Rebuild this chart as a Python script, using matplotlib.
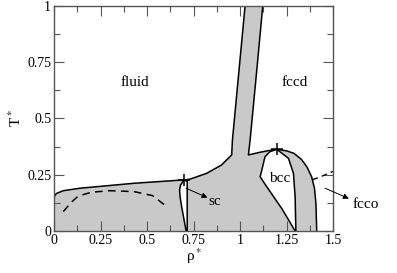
import numpy as np
import matplotlib
matplotlib.use("Agg")
import matplotlib.pyplot as plt
from matplotlib.ticker import MultipleLocator

plt.rcParams['font.family'] = ['Liberation Serif', 'DejaVu Serif']
plt.rcParams['mathtext.fontset'] = 'stix'

# coexistence boundaries (rho*, T*)
fluid_rho = [0.0, 0.004, 0.014, 0.05, 0.14, 0.43, 0.70]
fluid_T = [0.145, 0.158, 0.167, 0.179, 0.19, 0.212, 0.227]
sc_fcc_rho = [0.73, 0.82, 0.90, 0.955, 0.959, 1.027]
sc_fcc_T = [0.23, 0.256, 0.293, 0.338, 0.404, 1.0]
fccd_rho = [1.122, 1.09, 1.054, 1.045, 1.108, 1.152, 1.197]
fccd_T = [1.0, 0.716, 0.404, 0.338, 0.35, 0.357, 0.363]
outer_rho = [1.25, 1.29, 1.33, 1.36, 1.385, 1.40, 1.408, 1.412]
outer_T = [0.356, 0.345, 0.318, 0.284, 0.24, 0.19, 0.12, 0.0]

# sc pocket
sc_rho = [0.70, 0.68, 0.675, 0.678, 0.686, 0.71, 0.716, 0.716]
sc_T = [0.227, 0.204, 0.182, 0.15, 0.108, 0.0, 0.0, 0.22]

# bcc pocket
bcc_rho = [1.197, 1.16, 1.134, 1.117, 1.108, 1.143, 1.224, 1.296,
           1.30, 1.296, 1.287, 1.26, 1.197]
bcc_T = [0.363, 0.352, 0.33, 0.271, 0.241, 0.197, 0.1, 0.0,
         0.0, 0.152, 0.256, 0.323, 0.363]

# dashed lines
lg_rho = [0.05, 0.09, 0.13, 0.2, 0.3, 0.43, 0.53, 0.6]
lg_T = [0.086, 0.125, 0.155, 0.172, 0.179, 0.175, 0.157, 0.112]
fcco_rho = [1.39, 1.43, 1.5]
fcco_T = [0.228, 0.24, 0.265]

# critical points
crit_rho = [0.70, 1.197]
crit_T = [0.227, 0.363]

xticks = [0, 0.25, 0.5, 0.75, 1, 1.25, 1.5]
xticklabels = ['0', '0.25', '0.5', '0.75', '1', '1.25', '1.5']
yticks = [0, 0.25, 0.5, 0.75, 1]
yticklabels = ['0', '0.25', '0.5', '0.75', '1']

fig = plt.figure(figsize=(3.97, 2.73), dpi=100)
ax = fig.add_axes([0.136, 0.154, 0.703, 0.824])

poly_rho = [0.0] + fluid_rho + sc_fcc_rho + fccd_rho + outer_rho
poly_T = [0.0] + fluid_T + sc_fcc_T + fccd_T + outer_T
ax.fill(poly_rho, poly_T, facecolor='#c9c9c9', edgecolor='none')
ax.plot(fluid_rho + sc_fcc_rho, fluid_T + sc_fcc_T, color='k', lw=1.1)
ax.plot(fccd_rho + outer_rho, fccd_T + outer_T, color='k', lw=1.1)

ax.fill(sc_rho, sc_T, facecolor='white', edgecolor='k', lw=1.1)
ax.fill(bcc_rho, bcc_T, facecolor='white', edgecolor='k', lw=1.1)

ax.plot(lg_rho, lg_T, color='k', lw=1.1, ls=(0, (5, 3.5)))
ax.plot(fcco_rho, fcco_T, color='k', lw=1.0, ls=(0, (4, 3)), clip_on=False)

ax.plot(crit_rho, crit_T, 'k+', ms=8, mew=1.1)

ax.text(0.433, 0.662, 'fluid', ha='center', va='center', fontsize=11)
ax.text(1.294, 0.662, 'fccd', ha='center', va='center', fontsize=11)
ax.text(1.215, 0.234, 'bcc', ha='center', va='center', fontsize=11)
ax.text(0.866, 0.13, 'sc', ha='center', va='center', fontsize=11)
ax.annotate('', xy=(0.825, 0.148), xytext=(0.71, 0.19),
            arrowprops=dict(arrowstyle='-|>', color='k', lw=0.7,
                            mutation_scale=8, shrinkA=0, shrinkB=0))
ax.text(1.676, 0.116, 'fcco', ha='center', va='center', fontsize=11,
        clip_on=False)
ax.annotate('', xy=(1.585, 0.144), xytext=(1.457, 0.19),
            arrowprops=dict(arrowstyle='-|>', color='k', lw=0.7,
                            mutation_scale=8, shrinkA=0, shrinkB=0),
            annotation_clip=False)

ax.set_xlim(0, 1.5)
ax.set_ylim(0, 1)
ax.set_xticks(xticks)
ax.set_xticklabels(xticklabels)
ax.set_yticks(yticks)
ax.set_yticklabels(yticklabels)
ax.xaxis.set_minor_locator(MultipleLocator(0.125))
ax.yaxis.set_minor_locator(MultipleLocator(0.125))
ax.tick_params(which='both', direction='in', top=True, right=True,
               labelsize=10, pad=2, color='#555555', width=0.8)
ax.tick_params(which='major', length=7)
ax.tick_params(which='minor', length=4)
for s in ax.spines.values():
    s.set_color('#555555')
    s.set_linewidth(1.0)

ax.set_xlabel('ρ$^*$', fontsize=11, labelpad=0)
ax.set_ylabel('T$^*$', fontsize=11, labelpad=2)

fig.savefig('out.png', dpi=100)
